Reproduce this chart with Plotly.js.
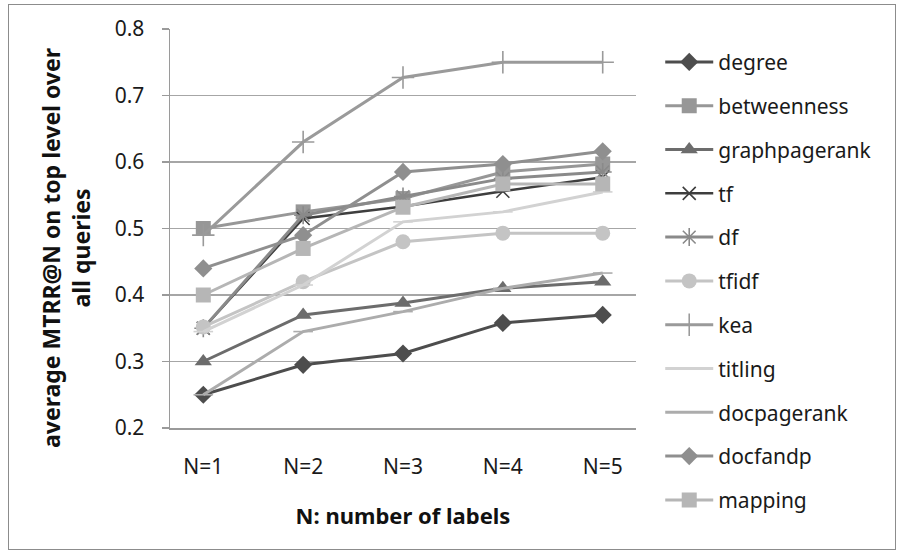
<!DOCTYPE html>
<html>
<head>
<meta charset="utf-8">
<script src="https://cdn.plot.ly/plotly-3.0.1.min.js"></script>
<style>
  html, body { margin: 0; padding: 0; background: #fff; }
  #wrap { position: relative; width: 901px; height: 555px; }
  #chart { position: absolute; left: 0; top: 0; width: 901px; height: 555px; }
  #frame { position: absolute; left: 8px; top: 4px; width: 886px; height: 544px;
           border: 1px solid #8c8c8c; pointer-events: none; }
</style>
</head>
<body>
<div id="wrap">
  <div id="chart"></div>
  <div id="frame"></div>
</div>
<script>
// Category labels on the x axis
const categories = ["N=1", "N=2", "N=3", "N=4", "N=5"];

// Average MTRR@N per method
const degree        = [0.250, 0.295, 0.312, 0.358, 0.370];
const betweenness   = [0.500, 0.525, 0.545, 0.585, 0.597];
const graphpagerank = [0.300, 0.370, 0.388, 0.410, 0.420];
const tf            = [0.350, 0.515, 0.533, 0.556, 0.577];
const df            = [0.350, 0.520, 0.548, 0.575, 0.585];
const tfidf         = [0.352, 0.420, 0.480, 0.493, 0.493];
const kea           = [0.490, 0.630, 0.727, 0.750, 0.750];
const titling       = [0.345, 0.415, 0.510, 0.525, 0.555];
const docpagerank   = [0.250, 0.345, 0.375, 0.410, 0.433];
const docfandp      = [0.440, 0.490, 0.585, 0.597, 0.616];
const mapping       = [0.400, 0.470, 0.532, 0.567, 0.567];

const yTicks = [0.2, 0.3, 0.4, 0.5, 0.6, 0.7, 0.8];

function series(name, values, color, symbol, size, opts) {
  opts = opts || {};
  const open = symbol.indexOf("open") >= 0;
  return {
    type: "scatter",
    mode: "lines+markers",
    name: name,
    legendgroup: name,
    x: categories,
    y: values,
    line: { color: color, width: opts.lw || 3 },
    marker: {
      symbol: symbol,
      size: size,
      color: color,
      line: open ? { color: color, width: 1.6 } : { width: 0 }
    },
    hoverinfo: "x+y+name"
  };
}

const traces = [
  series("degree",        degree,        "#4d4d4d", "diamond",         14),
  series("betweenness",   betweenness,   "#979797", "square",          15),
  series("graphpagerank", graphpagerank, "#6c6c6c", "triangle-up",     15),
  series("tf",            tf,            "#3e3e3e", "x-thin-open",     13, { lw: 2.5 }),
  series("df",            df,            "#8a8a8a", "asterisk-open",   15),
  series("tfidf",         tfidf,         "#c4c4c4", "circle",          15),
  series("kea",           kea,           "#9a9a9a", "cross-thin-open", 16),
  series("titling",       titling,       "#d2d2d2", "line-ew-open",    14),
  series("docpagerank",   docpagerank,   "#acacac", "line-ew-open",    14),
  series("docfandp",      docfandp,      "#8f8f8f", "diamond",         14),
  series("mapping",       mapping,       "#b6b6b6", "square",          15)
];

const fontFamily = "'Noto Sans', 'Open Sans', 'DejaVu Sans', sans-serif";

const layout = {
  width: 901,
  height: 555,
  margin: { l: 170, r: 265, t: 29, b: 127, pad: 0 },
  paper_bgcolor: "#ffffff",
  plot_bgcolor: "#ffffff",
  font: { family: fontFamily, size: 18, color: "#1a1a1a" },
  showlegend: true,
  legend: {
    x: 1.052, xanchor: "left",
    y: 0.968, yanchor: "top",
    font: { family: fontFamily, size: 21, color: "#1a1a1a" },
    tracegroupgap: 13.5,
    itemwidth: 48,
    maxheight: 540,
    bgcolor: "rgba(0,0,0,0)"
  },
  xaxis: {
    type: "category",
    categoryarray: categories,
    showgrid: false,
    showline: true,
    linecolor: "#9a9a9a",
    linewidth: 1.5,
    ticks: "",
    tickfont: { family: fontFamily, size: 21, color: "#1a1a1a" },
    ticklabelstandoff: 19,
    zeroline: false,
    fixedrange: true,
    title: {
      text: "N: number of labels",
      font: { family: fontFamily, size: 22, color: "#111", weight: "bold" },
      standoff: 30
    }
  },
  yaxis: {
    range: [0.2, 0.8],
    tickvals: yTicks,
    ticktext: yTicks.map(v => v.toFixed(1)),
    showgrid: true,
    gridcolor: "#a6a6a6",
    gridwidth: 1.5,
    showline: true,
    linecolor: "#9a9a9a",
    linewidth: 1.5,
    ticks: "outside",
    ticklen: 7,
    tickcolor: "#9a9a9a",
    tickwidth: 1.5,
    tickfont: { family: fontFamily, size: 21, color: "#1a1a1a" },
    ticklabelstandoff: 13,
    zeroline: false,
    fixedrange: true
  },
  annotations: [{
    text: "average MTRR@N on top level over<br>all queries",
    xref: "paper", yref: "paper",
    x: -0.222, y: 0.45,
    xanchor: "center", yanchor: "middle",
    textangle: -90,
    showarrow: false,
    align: "center",
    font: { family: fontFamily, size: 23, color: "#111", weight: "bold" }
  }]
};

Plotly.newPlot("chart", traces, layout, { displayModeBar: false, staticPlot: true });
</script>
</body>
</html>
